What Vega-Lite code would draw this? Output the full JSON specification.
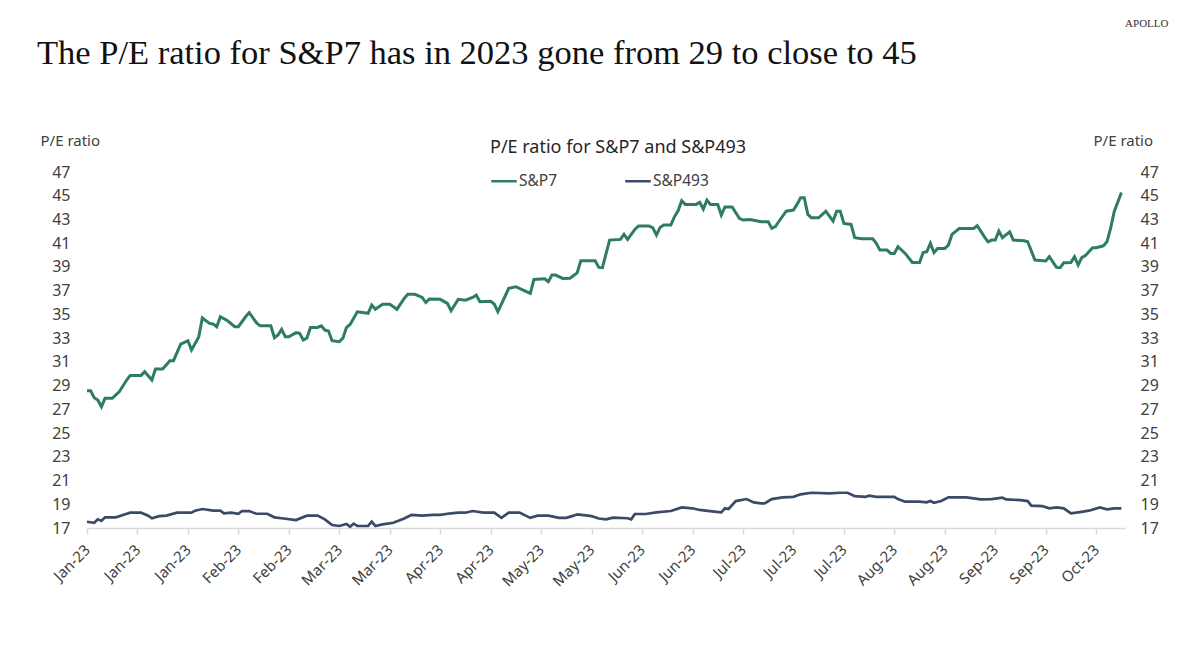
{
  "$schema": "https://vega.github.io/schema/vega-lite/v6.json",
  "width": 1038,
  "height": 356,
  "autosize": {"type": "none"},
  "padding": {"left": 87, "top": 172, "right": 75, "bottom": 125},
  "background": "white",
  "config": {"view": {"stroke": null}, "font": "Noto Sans"},
  "title": {
    "text": "The P/E ratio for S&P7 has in 2023 gone from 29 to close to 45",
    "anchor": "start",
    "frame": "group",
    "font": "Liberation Serif",
    "fontSize": 34.5,
    "fontWeight": "normal",
    "color": "#111111",
    "dx": -50,
    "dy": 54,
    "offset": 0
  },
  "datasets": {
    "pe": [
      {"date": "2023-01-02", "series": "S&P7", "pe": 28.57},
      {"date": "2023-01-03", "series": "S&P7", "pe": 28.57},
      {"date": "2023-01-04", "series": "S&P7", "pe": 27.98},
      {"date": "2023-01-05", "series": "S&P7", "pe": 27.78},
      {"date": "2023-01-06", "series": "S&P7", "pe": 27.22},
      {"date": "2023-01-07", "series": "S&P7", "pe": 27.93},
      {"date": "2023-01-09", "series": "S&P7", "pe": 27.93},
      {"date": "2023-01-11", "series": "S&P7", "pe": 28.49},
      {"date": "2023-01-13", "series": "S&P7", "pe": 29.47},
      {"date": "2023-01-14", "series": "S&P7", "pe": 29.86},
      {"date": "2023-01-17", "series": "S&P7", "pe": 29.86},
      {"date": "2023-01-18", "series": "S&P7", "pe": 30.17},
      {"date": "2023-01-20", "series": "S&P7", "pe": 29.47},
      {"date": "2023-01-21", "series": "S&P7", "pe": 30.4},
      {"date": "2023-01-23", "series": "S&P7", "pe": 30.4},
      {"date": "2023-01-25", "series": "S&P7", "pe": 31.1},
      {"date": "2023-01-26", "series": "S&P7", "pe": 31.1},
      {"date": "2023-01-28", "series": "S&P7", "pe": 32.5},
      {"date": "2023-01-30", "series": "S&P7", "pe": 32.78},
      {"date": "2023-01-31", "series": "S&P7", "pe": 32.0},
      {"date": "2023-02-02", "series": "S&P7", "pe": 33.1},
      {"date": "2023-02-03", "series": "S&P7", "pe": 34.7},
      {"date": "2023-02-05", "series": "S&P7", "pe": 34.24},
      {"date": "2023-02-06", "series": "S&P7", "pe": 34.2},
      {"date": "2023-02-07", "series": "S&P7", "pe": 33.96},
      {"date": "2023-02-08", "series": "S&P7", "pe": 34.8},
      {"date": "2023-02-10", "series": "S&P7", "pe": 34.46},
      {"date": "2023-02-12", "series": "S&P7", "pe": 33.96},
      {"date": "2023-02-13", "series": "S&P7", "pe": 33.96},
      {"date": "2023-02-15", "series": "S&P7", "pe": 34.8},
      {"date": "2023-02-16", "series": "S&P7", "pe": 35.14},
      {"date": "2023-02-18", "series": "S&P7", "pe": 34.3},
      {"date": "2023-02-19", "series": "S&P7", "pe": 34.04},
      {"date": "2023-02-22", "series": "S&P7", "pe": 34.04},
      {"date": "2023-02-23", "series": "S&P7", "pe": 33.03},
      {"date": "2023-02-24", "series": "S&P7", "pe": 33.26},
      {"date": "2023-02-25", "series": "S&P7", "pe": 33.74},
      {"date": "2023-02-26", "series": "S&P7", "pe": 33.12},
      {"date": "2023-02-27", "series": "S&P7", "pe": 33.12},
      {"date": "2023-03-01", "series": "S&P7", "pe": 33.46},
      {"date": "2023-03-02", "series": "S&P7", "pe": 33.4},
      {"date": "2023-03-03", "series": "S&P7", "pe": 32.84},
      {"date": "2023-03-04", "series": "S&P7", "pe": 33.0},
      {"date": "2023-03-05", "series": "S&P7", "pe": 33.9},
      {"date": "2023-03-07", "series": "S&P7", "pe": 33.9},
      {"date": "2023-03-08", "series": "S&P7", "pe": 34.04},
      {"date": "2023-03-09", "series": "S&P7", "pe": 33.68},
      {"date": "2023-03-10", "series": "S&P7", "pe": 33.6},
      {"date": "2023-03-11", "series": "S&P7", "pe": 32.78},
      {"date": "2023-03-13", "series": "S&P7", "pe": 32.7},
      {"date": "2023-03-14", "series": "S&P7", "pe": 33.0},
      {"date": "2023-03-15", "series": "S&P7", "pe": 33.9},
      {"date": "2023-03-16", "series": "S&P7", "pe": 34.15},
      {"date": "2023-03-18", "series": "S&P7", "pe": 35.22},
      {"date": "2023-03-21", "series": "S&P7", "pe": 35.09},
      {"date": "2023-03-22", "series": "S&P7", "pe": 35.79},
      {"date": "2023-03-23", "series": "S&P7", "pe": 35.43},
      {"date": "2023-03-25", "series": "S&P7", "pe": 35.85},
      {"date": "2023-03-27", "series": "S&P7", "pe": 35.85},
      {"date": "2023-03-29", "series": "S&P7", "pe": 35.43},
      {"date": "2023-03-31", "series": "S&P7", "pe": 36.35},
      {"date": "2023-04-01", "series": "S&P7", "pe": 36.69},
      {"date": "2023-04-03", "series": "S&P7", "pe": 36.69},
      {"date": "2023-04-05", "series": "S&P7", "pe": 36.43},
      {"date": "2023-04-06", "series": "S&P7", "pe": 36.0},
      {"date": "2023-04-07", "series": "S&P7", "pe": 36.3},
      {"date": "2023-04-10", "series": "S&P7", "pe": 36.27},
      {"date": "2023-04-12", "series": "S&P7", "pe": 35.93},
      {"date": "2023-04-13", "series": "S&P7", "pe": 35.31},
      {"date": "2023-04-15", "series": "S&P7", "pe": 36.27},
      {"date": "2023-04-17", "series": "S&P7", "pe": 36.2},
      {"date": "2023-04-19", "series": "S&P7", "pe": 36.43},
      {"date": "2023-04-20", "series": "S&P7", "pe": 36.63},
      {"date": "2023-04-21", "series": "S&P7", "pe": 36.07},
      {"date": "2023-04-24", "series": "S&P7", "pe": 36.1},
      {"date": "2023-04-25", "series": "S&P7", "pe": 35.87},
      {"date": "2023-04-26", "series": "S&P7", "pe": 35.22},
      {"date": "2023-04-29", "series": "S&P7", "pe": 37.19},
      {"date": "2023-05-01", "series": "S&P7", "pe": 37.33},
      {"date": "2023-05-03", "series": "S&P7", "pe": 37.05},
      {"date": "2023-05-05", "series": "S&P7", "pe": 36.77},
      {"date": "2023-05-06", "series": "S&P7", "pe": 37.95},
      {"date": "2023-05-09", "series": "S&P7", "pe": 38.0},
      {"date": "2023-05-10", "series": "S&P7", "pe": 37.75},
      {"date": "2023-05-11", "series": "S&P7", "pe": 38.31},
      {"date": "2023-05-12", "series": "S&P7", "pe": 38.31},
      {"date": "2023-05-14", "series": "S&P7", "pe": 38.03},
      {"date": "2023-05-16", "series": "S&P7", "pe": 38.05},
      {"date": "2023-05-18", "series": "S&P7", "pe": 38.5},
      {"date": "2023-05-19", "series": "S&P7", "pe": 39.52},
      {"date": "2023-05-23", "series": "S&P7", "pe": 39.52},
      {"date": "2023-05-24", "series": "S&P7", "pe": 38.96},
      {"date": "2023-05-25", "series": "S&P7", "pe": 38.94},
      {"date": "2023-05-27", "series": "S&P7", "pe": 41.26},
      {"date": "2023-05-30", "series": "S&P7", "pe": 41.32},
      {"date": "2023-05-31", "series": "S&P7", "pe": 41.74},
      {"date": "2023-06-01", "series": "S&P7", "pe": 41.32},
      {"date": "2023-06-03", "series": "S&P7", "pe": 42.16},
      {"date": "2023-06-04", "series": "S&P7", "pe": 42.44},
      {"date": "2023-06-07", "series": "S&P7", "pe": 42.44},
      {"date": "2023-06-08", "series": "S&P7", "pe": 42.3},
      {"date": "2023-06-09", "series": "S&P7", "pe": 41.68},
      {"date": "2023-06-10", "series": "S&P7", "pe": 42.33},
      {"date": "2023-06-11", "series": "S&P7", "pe": 42.53},
      {"date": "2023-06-13", "series": "S&P7", "pe": 42.53},
      {"date": "2023-06-14", "series": "S&P7", "pe": 43.23},
      {"date": "2023-06-15", "series": "S&P7", "pe": 43.73},
      {"date": "2023-06-16", "series": "S&P7", "pe": 44.57},
      {"date": "2023-06-17", "series": "S&P7", "pe": 44.27},
      {"date": "2023-06-20", "series": "S&P7", "pe": 44.27},
      {"date": "2023-06-21", "series": "S&P7", "pe": 44.44},
      {"date": "2023-06-22", "series": "S&P7", "pe": 43.87},
      {"date": "2023-06-23", "series": "S&P7", "pe": 44.63},
      {"date": "2023-06-24", "series": "S&P7", "pe": 44.27},
      {"date": "2023-06-26", "series": "S&P7", "pe": 44.27},
      {"date": "2023-06-27", "series": "S&P7", "pe": 43.37},
      {"date": "2023-06-28", "series": "S&P7", "pe": 44.06},
      {"date": "2023-06-30", "series": "S&P7", "pe": 44.06},
      {"date": "2023-07-02", "series": "S&P7", "pe": 43.09},
      {"date": "2023-07-03", "series": "S&P7", "pe": 42.95},
      {"date": "2023-07-05", "series": "S&P7", "pe": 43.0},
      {"date": "2023-07-08", "series": "S&P7", "pe": 42.8},
      {"date": "2023-07-10", "series": "S&P7", "pe": 42.8},
      {"date": "2023-07-11", "series": "S&P7", "pe": 42.25},
      {"date": "2023-07-12", "series": "S&P7", "pe": 42.4},
      {"date": "2023-07-13", "series": "S&P7", "pe": 42.85},
      {"date": "2023-07-15", "series": "S&P7", "pe": 43.7},
      {"date": "2023-07-17", "series": "S&P7", "pe": 43.79},
      {"date": "2023-07-18", "series": "S&P7", "pe": 44.27},
      {"date": "2023-07-19", "series": "S&P7", "pe": 44.83},
      {"date": "2023-07-20", "series": "S&P7", "pe": 44.83},
      {"date": "2023-07-21", "series": "S&P7", "pe": 43.43},
      {"date": "2023-07-22", "series": "S&P7", "pe": 43.14},
      {"date": "2023-07-24", "series": "S&P7", "pe": 43.14},
      {"date": "2023-07-26", "series": "S&P7", "pe": 43.7},
      {"date": "2023-07-28", "series": "S&P7", "pe": 42.86},
      {"date": "2023-07-29", "series": "S&P7", "pe": 43.7},
      {"date": "2023-07-30", "series": "S&P7", "pe": 43.7},
      {"date": "2023-07-31", "series": "S&P7", "pe": 42.67},
      {"date": "2023-08-02", "series": "S&P7", "pe": 42.58},
      {"date": "2023-08-03", "series": "S&P7", "pe": 41.46},
      {"date": "2023-08-05", "series": "S&P7", "pe": 41.37},
      {"date": "2023-08-08", "series": "S&P7", "pe": 41.37},
      {"date": "2023-08-09", "series": "S&P7", "pe": 40.99},
      {"date": "2023-08-10", "series": "S&P7", "pe": 40.42},
      {"date": "2023-08-12", "series": "S&P7", "pe": 40.42},
      {"date": "2023-08-13", "series": "S&P7", "pe": 40.14},
      {"date": "2023-08-14", "series": "S&P7", "pe": 40.14},
      {"date": "2023-08-15", "series": "S&P7", "pe": 40.7},
      {"date": "2023-08-17", "series": "S&P7", "pe": 40.14},
      {"date": "2023-08-19", "series": "S&P7", "pe": 39.38},
      {"date": "2023-08-21", "series": "S&P7", "pe": 39.37},
      {"date": "2023-08-22", "series": "S&P7", "pe": 40.22},
      {"date": "2023-08-23", "series": "S&P7", "pe": 40.28},
      {"date": "2023-08-24", "series": "S&P7", "pe": 40.99},
      {"date": "2023-08-25", "series": "S&P7", "pe": 40.2},
      {"date": "2023-08-26", "series": "S&P7", "pe": 40.56},
      {"date": "2023-08-28", "series": "S&P7", "pe": 40.56},
      {"date": "2023-08-29", "series": "S&P7", "pe": 40.84},
      {"date": "2023-08-30", "series": "S&P7", "pe": 41.74},
      {"date": "2023-09-01", "series": "S&P7", "pe": 42.24},
      {"date": "2023-09-05", "series": "S&P7", "pe": 42.24},
      {"date": "2023-09-06", "series": "S&P7", "pe": 42.47},
      {"date": "2023-09-08", "series": "S&P7", "pe": 41.54},
      {"date": "2023-09-09", "series": "S&P7", "pe": 41.12},
      {"date": "2023-09-10", "series": "S&P7", "pe": 41.26},
      {"date": "2023-09-11", "series": "S&P7", "pe": 41.26},
      {"date": "2023-09-12", "series": "S&P7", "pe": 42.02},
      {"date": "2023-09-13", "series": "S&P7", "pe": 41.46},
      {"date": "2023-09-15", "series": "S&P7", "pe": 41.96},
      {"date": "2023-09-16", "series": "S&P7", "pe": 41.26},
      {"date": "2023-09-19", "series": "S&P7", "pe": 41.2},
      {"date": "2023-09-20", "series": "S&P7", "pe": 41.12},
      {"date": "2023-09-22", "series": "S&P7", "pe": 39.58},
      {"date": "2023-09-25", "series": "S&P7", "pe": 39.5},
      {"date": "2023-09-26", "series": "S&P7", "pe": 39.86},
      {"date": "2023-09-28", "series": "S&P7", "pe": 38.96},
      {"date": "2023-09-29", "series": "S&P7", "pe": 38.93},
      {"date": "2023-09-30", "series": "S&P7", "pe": 39.35},
      {"date": "2023-10-02", "series": "S&P7", "pe": 39.38},
      {"date": "2023-10-03", "series": "S&P7", "pe": 39.86},
      {"date": "2023-10-04", "series": "S&P7", "pe": 39.16},
      {"date": "2023-10-05", "series": "S&P7", "pe": 39.78},
      {"date": "2023-10-06", "series": "S&P7", "pe": 39.95},
      {"date": "2023-10-08", "series": "S&P7", "pe": 40.62},
      {"date": "2023-10-09", "series": "S&P7", "pe": 40.62},
      {"date": "2023-10-11", "series": "S&P7", "pe": 40.78},
      {"date": "2023-10-12", "series": "S&P7", "pe": 41.12},
      {"date": "2023-10-13", "series": "S&P7", "pe": 42.24},
      {"date": "2023-10-14", "series": "S&P7", "pe": 43.65},
      {"date": "2023-10-16", "series": "S&P7", "pe": 45.28},
      {"date": "2023-01-02", "series": "S&P493", "pe": 17.53},
      {"date": "2023-01-04", "series": "S&P493", "pe": 17.44},
      {"date": "2023-01-05", "series": "S&P493", "pe": 17.73},
      {"date": "2023-01-06", "series": "S&P493", "pe": 17.6},
      {"date": "2023-01-07", "series": "S&P493", "pe": 17.9},
      {"date": "2023-01-10", "series": "S&P493", "pe": 17.9},
      {"date": "2023-01-12", "series": "S&P493", "pe": 18.1},
      {"date": "2023-01-14", "series": "S&P493", "pe": 18.29},
      {"date": "2023-01-17", "series": "S&P493", "pe": 18.29},
      {"date": "2023-01-19", "series": "S&P493", "pe": 18.04},
      {"date": "2023-01-20", "series": "S&P493", "pe": 17.82},
      {"date": "2023-01-22", "series": "S&P493", "pe": 18.0},
      {"date": "2023-01-24", "series": "S&P493", "pe": 18.04},
      {"date": "2023-01-27", "series": "S&P493", "pe": 18.29},
      {"date": "2023-01-31", "series": "S&P493", "pe": 18.29},
      {"date": "2023-02-01", "series": "S&P493", "pe": 18.46},
      {"date": "2023-02-03", "series": "S&P493", "pe": 18.6},
      {"date": "2023-02-06", "series": "S&P493", "pe": 18.46},
      {"date": "2023-02-08", "series": "S&P493", "pe": 18.46},
      {"date": "2023-02-09", "series": "S&P493", "pe": 18.24},
      {"date": "2023-02-11", "series": "S&P493", "pe": 18.29},
      {"date": "2023-02-13", "series": "S&P493", "pe": 18.2},
      {"date": "2023-02-14", "series": "S&P493", "pe": 18.43},
      {"date": "2023-02-16", "series": "S&P493", "pe": 18.43},
      {"date": "2023-02-18", "series": "S&P493", "pe": 18.2},
      {"date": "2023-02-21", "series": "S&P493", "pe": 18.2},
      {"date": "2023-02-23", "series": "S&P493", "pe": 17.9},
      {"date": "2023-02-25", "series": "S&P493", "pe": 17.82},
      {"date": "2023-03-01", "series": "S&P493", "pe": 17.67},
      {"date": "2023-03-04", "series": "S&P493", "pe": 18.04},
      {"date": "2023-03-07", "series": "S&P493", "pe": 18.04},
      {"date": "2023-03-09", "series": "S&P493", "pe": 17.73},
      {"date": "2023-03-11", "series": "S&P493", "pe": 17.25},
      {"date": "2023-03-13", "series": "S&P493", "pe": 17.17},
      {"date": "2023-03-15", "series": "S&P493", "pe": 17.34},
      {"date": "2023-03-16", "series": "S&P493", "pe": 17.1},
      {"date": "2023-03-17", "series": "S&P493", "pe": 17.37},
      {"date": "2023-03-18", "series": "S&P493", "pe": 17.17},
      {"date": "2023-03-21", "series": "S&P493", "pe": 17.17},
      {"date": "2023-03-22", "series": "S&P493", "pe": 17.53},
      {"date": "2023-03-23", "series": "S&P493", "pe": 17.17},
      {"date": "2023-03-25", "series": "S&P493", "pe": 17.3},
      {"date": "2023-03-28", "series": "S&P493", "pe": 17.44},
      {"date": "2023-03-31", "series": "S&P493", "pe": 17.8},
      {"date": "2023-04-02", "series": "S&P493", "pe": 18.1},
      {"date": "2023-04-05", "series": "S&P493", "pe": 18.04},
      {"date": "2023-04-08", "series": "S&P493", "pe": 18.1},
      {"date": "2023-04-10", "series": "S&P493", "pe": 18.1},
      {"date": "2023-04-13", "series": "S&P493", "pe": 18.24},
      {"date": "2023-04-15", "series": "S&P493", "pe": 18.29},
      {"date": "2023-04-17", "series": "S&P493", "pe": 18.29},
      {"date": "2023-04-19", "series": "S&P493", "pe": 18.43},
      {"date": "2023-04-22", "series": "S&P493", "pe": 18.29},
      {"date": "2023-04-25", "series": "S&P493", "pe": 18.29},
      {"date": "2023-04-27", "series": "S&P493", "pe": 17.85},
      {"date": "2023-04-29", "series": "S&P493", "pe": 18.3},
      {"date": "2023-05-02", "series": "S&P493", "pe": 18.3},
      {"date": "2023-05-05", "series": "S&P493", "pe": 17.85},
      {"date": "2023-05-07", "series": "S&P493", "pe": 18.04},
      {"date": "2023-05-10", "series": "S&P493", "pe": 18.04},
      {"date": "2023-05-13", "series": "S&P493", "pe": 17.85},
      {"date": "2023-05-15", "series": "S&P493", "pe": 17.85},
      {"date": "2023-05-17", "series": "S&P493", "pe": 18.04},
      {"date": "2023-05-18", "series": "S&P493", "pe": 18.15},
      {"date": "2023-05-21", "series": "S&P493", "pe": 18.04},
      {"date": "2023-05-22", "series": "S&P493", "pe": 18.0},
      {"date": "2023-05-24", "series": "S&P493", "pe": 17.8},
      {"date": "2023-05-26", "series": "S&P493", "pe": 17.73},
      {"date": "2023-05-28", "series": "S&P493", "pe": 17.87},
      {"date": "2023-06-01", "series": "S&P493", "pe": 17.82},
      {"date": "2023-06-02", "series": "S&P493", "pe": 17.73},
      {"date": "2023-06-03", "series": "S&P493", "pe": 18.18},
      {"date": "2023-06-06", "series": "S&P493", "pe": 18.18},
      {"date": "2023-06-09", "series": "S&P493", "pe": 18.32},
      {"date": "2023-06-13", "series": "S&P493", "pe": 18.43},
      {"date": "2023-06-16", "series": "S&P493", "pe": 18.74},
      {"date": "2023-06-19", "series": "S&P493", "pe": 18.66},
      {"date": "2023-06-21", "series": "S&P493", "pe": 18.52},
      {"date": "2023-06-25", "series": "S&P493", "pe": 18.38},
      {"date": "2023-06-27", "series": "S&P493", "pe": 18.32},
      {"date": "2023-06-28", "series": "S&P493", "pe": 18.66},
      {"date": "2023-06-29", "series": "S&P493", "pe": 18.6},
      {"date": "2023-07-01", "series": "S&P493", "pe": 19.27},
      {"date": "2023-07-04", "series": "S&P493", "pe": 19.44},
      {"date": "2023-07-06", "series": "S&P493", "pe": 19.16},
      {"date": "2023-07-08", "series": "S&P493", "pe": 19.07},
      {"date": "2023-07-09", "series": "S&P493", "pe": 19.07},
      {"date": "2023-07-11", "series": "S&P493", "pe": 19.44},
      {"date": "2023-07-14", "series": "S&P493", "pe": 19.58},
      {"date": "2023-07-17", "series": "S&P493", "pe": 19.63},
      {"date": "2023-07-19", "series": "S&P493", "pe": 19.84},
      {"date": "2023-07-22", "series": "S&P493", "pe": 19.97},
      {"date": "2023-07-27", "series": "S&P493", "pe": 19.92},
      {"date": "2023-07-30", "series": "S&P493", "pe": 19.97},
      {"date": "2023-08-01", "series": "S&P493", "pe": 19.97},
      {"date": "2023-08-03", "series": "S&P493", "pe": 19.69},
      {"date": "2023-08-06", "series": "S&P493", "pe": 19.63},
      {"date": "2023-08-07", "series": "S&P493", "pe": 19.72},
      {"date": "2023-08-09", "series": "S&P493", "pe": 19.63},
      {"date": "2023-08-14", "series": "S&P493", "pe": 19.63},
      {"date": "2023-08-15", "series": "S&P493", "pe": 19.44},
      {"date": "2023-08-17", "series": "S&P493", "pe": 19.22},
      {"date": "2023-08-21", "series": "S&P493", "pe": 19.22},
      {"date": "2023-08-23", "series": "S&P493", "pe": 19.16},
      {"date": "2023-08-24", "series": "S&P493", "pe": 19.27},
      {"date": "2023-08-25", "series": "S&P493", "pe": 19.13},
      {"date": "2023-08-27", "series": "S&P493", "pe": 19.27},
      {"date": "2023-08-29", "series": "S&P493", "pe": 19.58},
      {"date": "2023-09-03", "series": "S&P493", "pe": 19.58},
      {"date": "2023-09-07", "series": "S&P493", "pe": 19.41},
      {"date": "2023-09-10", "series": "S&P493", "pe": 19.44},
      {"date": "2023-09-13", "series": "S&P493", "pe": 19.55},
      {"date": "2023-09-14", "series": "S&P493", "pe": 19.41},
      {"date": "2023-09-18", "series": "S&P493", "pe": 19.35},
      {"date": "2023-09-20", "series": "S&P493", "pe": 19.27},
      {"date": "2023-09-21", "series": "S&P493", "pe": 18.88},
      {"date": "2023-09-24", "series": "S&P493", "pe": 18.85},
      {"date": "2023-09-26", "series": "S&P493", "pe": 18.66},
      {"date": "2023-09-28", "series": "S&P493", "pe": 18.74},
      {"date": "2023-09-30", "series": "S&P493", "pe": 18.66},
      {"date": "2023-10-02", "series": "S&P493", "pe": 18.24},
      {"date": "2023-10-04", "series": "S&P493", "pe": 18.32},
      {"date": "2023-10-07", "series": "S&P493", "pe": 18.46},
      {"date": "2023-10-10", "series": "S&P493", "pe": 18.74},
      {"date": "2023-10-12", "series": "S&P493", "pe": 18.57},
      {"date": "2023-10-14", "series": "S&P493", "pe": 18.66},
      {"date": "2023-10-16", "series": "S&P493", "pe": 18.66}
    ]
  },
  "data": {"name": "pe"},
  "encoding": {
    "x": {
      "field": "date",
      "type": "temporal",
      "scale": {
        "type": "utc",
        "domain": [
          {"year": 2023, "month": 1, "date": 2, "utc": true},
          {"year": 2023, "month": 10, "date": 17, "utc": true}
        ]
      },
      "axis": {
        "values": [
          {"year": 2023, "month": 1, "date": 2, "utc": true},
          {"year": 2023, "month": 1, "date": 16, "utc": true},
          {"year": 2023, "month": 1, "date": 30, "utc": true},
          {"year": 2023, "month": 2, "date": 13, "utc": true},
          {"year": 2023, "month": 2, "date": 27, "utc": true},
          {"year": 2023, "month": 3, "date": 13, "utc": true},
          {"year": 2023, "month": 3, "date": 27, "utc": true},
          {"year": 2023, "month": 4, "date": 10, "utc": true},
          {"year": 2023, "month": 4, "date": 24, "utc": true},
          {"year": 2023, "month": 5, "date": 8, "utc": true},
          {"year": 2023, "month": 5, "date": 22, "utc": true},
          {"year": 2023, "month": 6, "date": 5, "utc": true},
          {"year": 2023, "month": 6, "date": 19, "utc": true},
          {"year": 2023, "month": 7, "date": 3, "utc": true},
          {"year": 2023, "month": 7, "date": 17, "utc": true},
          {"year": 2023, "month": 7, "date": 31, "utc": true},
          {"year": 2023, "month": 8, "date": 14, "utc": true},
          {"year": 2023, "month": 8, "date": 28, "utc": true},
          {"year": 2023, "month": 9, "date": 11, "utc": true},
          {"year": 2023, "month": 9, "date": 25, "utc": true},
          {"year": 2023, "month": 10, "date": 9, "utc": true}
        ],
        "format": "%b-%y",
        "labelAngle": -45,
        "labelAlign": "right",
        "labelBaseline": "middle",
        "labelPadding": 13,
        "labelFontSize": 15,
        "labelColor": "#404040",
        "labelFont": "Noto Sans",
        "labelOverlap": false,
        "labelBound": false,
        "labelFlush": false,
        "grid": false,
        "domainColor": "#d9d9d9",
        "domainWidth": 1.5,
        "tickColor": "#d9d9d9",
        "tickWidth": 1.5,
        "tickSize": 6,
        "title": "APOLLO",
        "titleFont": "Liberation Serif",
        "titleFontSize": 11,
        "titleFontWeight": "normal",
        "titleColor": "#333333",
        "titleX": 1081,
        "titleY": -502,
        "titleAlign": "right",
        "titleBaseline": "alphabetic"
      }
    },
    "color": {
      "field": "series",
      "type": "nominal",
      "scale": {"domain": ["S&P7", "S&P493"], "range": ["#2e7d62", "#3c4a68"]},
      "legend": {
        "orient": "none",
        "legendX": 403,
        "legendY": -33,
        "direction": "horizontal",
        "title": "P/E ratio for S&P7 and S&P493",
        "titleLimit": 600,
        "titleFont": "Noto Sans",
        "titleFontSize": 18,
        "titleFontWeight": "normal",
        "titleColor": "#262626",
        "titlePadding": 10,
        "symbolType": "stroke",
        "symbolStrokeWidth": 2.5,
        "symbolSize": 650,
        "labelFont": "Noto Sans",
        "labelFontSize": 15.5,
        "labelColor": "#404040",
        "labelOffset": 1,
        "columnPadding": 62
      }
    }
  },
  "layer": [
    {
      "transform": [{"filter": "datum.series === 'S&P7'"}],
      "mark": {"type": "line", "strokeWidth": 3},
      "encoding": {
        "y": {
          "field": "pe",
          "type": "quantitative",
          "scale": {"domain": [17, 47], "nice": false, "zero": false},
          "axis": {
            "orient": "left",
            "values": [17, 19, 21, 23, 25, 27, 29, 31, 33, 35, 37, 39, 41, 43, 45, 47],
            "ticks": false,
            "domain": false,
            "grid": false,
            "labelPadding": 17,
            "labelFont": "Noto Sans",
            "labelFontSize": 16,
            "labelColor": "#404040",
            "title": "P/E ratio",
            "titleFont": "Noto Sans",
            "titleFontSize": 15,
            "titleFontWeight": "normal",
            "titleColor": "#404040",
            "titleAngle": 0,
            "titleAlign": "left",
            "titleBaseline": "alphabetic",
            "titleX": -47,
            "titleY": -27
          }
        }
      }
    },
    {
      "transform": [{"filter": "datum.series === 'S&P493'"}],
      "mark": {"type": "line", "strokeWidth": 2.7},
      "encoding": {
        "y": {
          "field": "pe",
          "type": "quantitative",
          "axis": {
            "orient": "right",
            "values": [17, 19, 21, 23, 25, 27, 29, 31, 33, 35, 37, 39, 41, 43, 45, 47],
            "ticks": false,
            "domain": false,
            "grid": false,
            "labelPadding": 15,
            "labelFont": "Noto Sans",
            "labelFontSize": 16,
            "labelColor": "#404040",
            "title": "P/E ratio",
            "titleFont": "Noto Sans",
            "titleFontSize": 15,
            "titleFontWeight": "normal",
            "titleColor": "#404040",
            "titleAngle": 0,
            "titleAlign": "left",
            "titleBaseline": "alphabetic",
            "titleX": -32,
            "titleY": -27
          }
        }
      }
    }
  ],
  "resolve": {"scale": {"y": "shared"}, "axis": {"y": "independent"}}
}
